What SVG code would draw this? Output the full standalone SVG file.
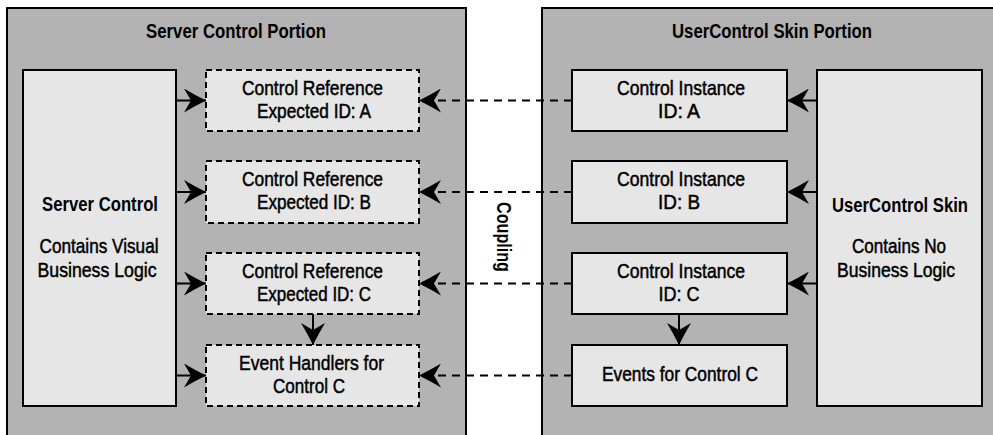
<svg xmlns="http://www.w3.org/2000/svg" width="993" height="435" viewBox="0 0 993 435">
  <style>
    .panel { fill: #b3b3b3; stroke: #000; stroke-width: 2; }
    .box { fill: #e6e6e6; stroke: #000; stroke-width: 2; }
    .ref { fill: #e6e6e6; stroke: #000; stroke-width: 2; stroke-dasharray: 6 4; }
    text { font-family: "Liberation Sans", Arial, sans-serif; font-size: 20.5px; fill: #000; text-anchor: middle; }
    .b { font-weight: bold; }
    .t { stroke: #000; stroke-width: 0.5; }
    .solid { fill: none; stroke: #000; stroke-width: 2; marker-end: url(#head); }
    .dash { fill: none; stroke: #000; stroke-width: 2; stroke-dasharray: 8 6; marker-end: url(#head); }
  </style>
  <defs>
    <marker id="head" viewBox="0 0 22 24" refX="22" refY="12" markerWidth="22" markerHeight="24" markerUnits="userSpaceOnUse" orient="auto">
      <path d="M22,12 Q10,6 0,0 L7,12 L0,24 Q10,18 22,12 Z" fill="#000" stroke="none"/>
    </marker>
  </defs>

  <rect width="993" height="435" fill="#fff"/>

  <!-- panels -->
  <g id="server-portion">
    <rect class="panel" x="7" y="8" width="459" height="440"/>
    <text class="b" x="236" y="38" textLength="180" lengthAdjust="spacingAndGlyphs">Server Control Portion</text>
  </g>
  <g id="skin-portion">
    <rect class="panel" x="542" y="8" width="460" height="440"/>
    <text class="b" x="772" y="38" textLength="200" lengthAdjust="spacingAndGlyphs">UserControl Skin Portion</text>
  </g>

  <!-- left column -->
  <g id="server-control">
    <rect class="box" x="23" y="70" width="153" height="336"/>
    <text class="b" x="100" y="211" textLength="116" lengthAdjust="spacingAndGlyphs">Server Control</text>
    <text class="t" x="99" y="253" textLength="119" lengthAdjust="spacingAndGlyphs">Contains Visual</text>
    <text class="t" x="97" y="277" textLength="119" lengthAdjust="spacingAndGlyphs">Business Logic</text>
  </g>

  <g id="ref-a">
    <rect class="ref" x="206" y="70" width="213" height="61"/>
    <text class="t" x="312.5" y="95" textLength="141" lengthAdjust="spacingAndGlyphs">Control Reference</text>
    <text class="t" x="314" y="118" textLength="114" lengthAdjust="spacingAndGlyphs">Expected ID: A</text>
  </g>
  <g id="ref-b">
    <rect class="ref" x="206" y="161" width="213" height="62"/>
    <text class="t" x="312.5" y="186" textLength="141" lengthAdjust="spacingAndGlyphs">Control Reference</text>
    <text class="t" x="314" y="209" textLength="114" lengthAdjust="spacingAndGlyphs">Expected ID: B</text>
  </g>
  <g id="ref-c">
    <rect class="ref" x="206" y="253" width="213" height="61"/>
    <text class="t" x="312.5" y="278" textLength="141" lengthAdjust="spacingAndGlyphs">Control Reference</text>
    <text class="t" x="314" y="301" textLength="114" lengthAdjust="spacingAndGlyphs">Expected ID: C</text>
  </g>
  <g id="handlers-c">
    <rect class="ref" x="206" y="345" width="213" height="61"/>
    <text class="t" x="311.5" y="370" textLength="145" lengthAdjust="spacingAndGlyphs">Event Handlers for</text>
    <text class="t" x="309" y="393" textLength="72" lengthAdjust="spacingAndGlyphs">Control C</text>
  </g>

  <!-- right column -->
  <g id="instance-a">
    <rect class="box" x="572" y="70" width="215" height="61"/>
    <text class="t" x="681" y="95" textLength="128" lengthAdjust="spacingAndGlyphs">Control Instance</text>
    <text class="t" x="679" y="118" textLength="42" lengthAdjust="spacingAndGlyphs">ID: A</text>
  </g>
  <g id="instance-b">
    <rect class="box" x="572" y="161" width="215" height="62"/>
    <text class="t" x="681" y="186" textLength="128" lengthAdjust="spacingAndGlyphs">Control Instance</text>
    <text class="t" x="679" y="209" textLength="42" lengthAdjust="spacingAndGlyphs">ID: B</text>
  </g>
  <g id="instance-c">
    <rect class="box" x="572" y="253" width="215" height="61"/>
    <text class="t" x="681" y="278" textLength="128" lengthAdjust="spacingAndGlyphs">Control Instance</text>
    <text class="t" x="679" y="301" textLength="41" lengthAdjust="spacingAndGlyphs">ID: C</text>
  </g>
  <g id="events-c">
    <rect class="box" x="572" y="345" width="215" height="61"/>
    <text class="t" x="680" y="381" textLength="156" lengthAdjust="spacingAndGlyphs">Events for Control C</text>
  </g>

  <g id="usercontrol-skin">
    <rect class="box" x="817" y="70" width="165" height="336"/>
    <text class="b" x="900" y="212" textLength="136" lengthAdjust="spacingAndGlyphs" style="font-size:19.5px">UserControl Skin</text>
    <text class="t" x="899" y="253" textLength="94" lengthAdjust="spacingAndGlyphs">Contains No</text>
    <text class="t" x="896" y="277" textLength="118" lengthAdjust="spacingAndGlyphs">Business Logic</text>
  </g>

  <g id="coupling-label">
    <text class="b" x="237" y="0" transform="translate(497 0) rotate(90)" textLength="70" lengthAdjust="spacingAndGlyphs" style="font-size:21px">Coupling</text>
  </g>

  <!-- connectors -->
  <g id="connectors">
    <path class="solid" d="M176,100.5 H206"/>
    <path class="solid" d="M176,192 H206"/>
    <path class="solid" d="M176,283.5 H206"/>
    <path class="solid" d="M176,375.5 H206"/>

    <path class="solid" d="M313,314 V345"/>
    <path class="solid" d="M679,314 V345"/>

    <path class="solid" d="M817,100.5 H787"/>
    <path class="solid" d="M817,192 H787"/>
    <path class="solid" d="M817,283.5 H787"/>

    <path class="dash" d="M572,100.5 H419"/>
    <path class="dash" d="M572,192 H419"/>
    <path class="dash" d="M572,283.5 H419"/>
    <path class="dash" d="M572,375.5 H419"/>
  </g>
</svg>
